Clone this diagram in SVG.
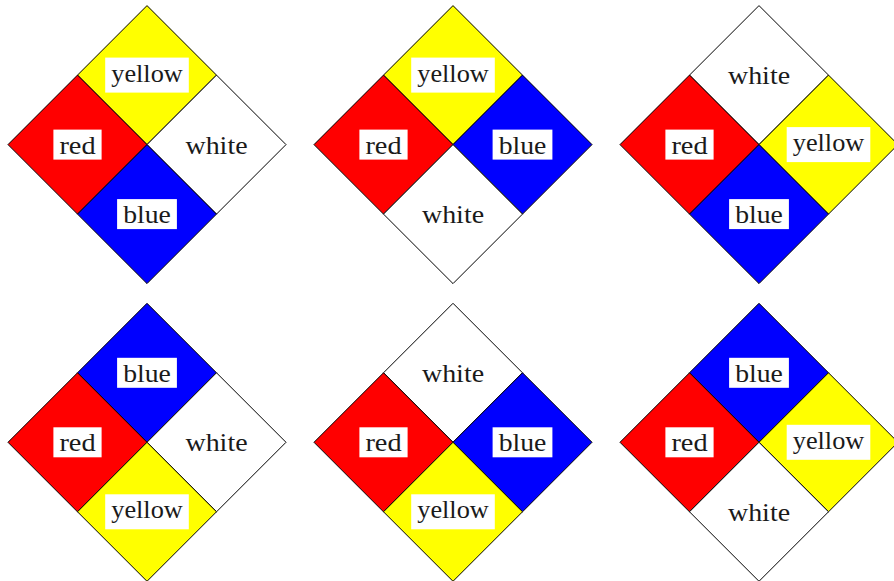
<svg xmlns="http://www.w3.org/2000/svg" xmlns:xlink="http://www.w3.org/1999/xlink" width="894" height="581" viewBox="0 0 894 581">
<style>
.d{stroke:#000;stroke-width:1;stroke-linejoin:miter}
.r{fill:#ff0000}.y{fill:#ffff00}.b{fill:#0000ff}.w{fill:#ffffff}
.bx{fill:#fff;stroke:none}
text{font-family:"Liberation Serif","Times New Roman",serif;font-size:26px;fill:#1a1a1a;text-anchor:middle}
</style>
<defs>
<path id="sd" d="M0,-69.5 L69.5,0 L0,69.5 L-69.5,0 Z"/>
<g id="lred"><rect class="bx" x="-24.1" y="-15" width="48.2" height="30"/><text y="9" textLength="36.2" lengthAdjust="spacingAndGlyphs">red</text></g>
<g id="lblue"><rect class="bx" x="-29.9" y="-15" width="59.8" height="30"/><text y="9" textLength="47.7" lengthAdjust="spacingAndGlyphs">blue</text></g>
<g id="lwhite"><rect class="bx" x="-37" y="-15" width="74" height="30"/><text y="9" textLength="62.1" lengthAdjust="spacingAndGlyphs">white</text></g>
<g id="lyellow"><rect class="bx" x="-41.8" y="-17.5" width="83.6" height="35"/><text y="6.5" textLength="71.5" lengthAdjust="spacingAndGlyphs">yellow</text></g>
</defs>
<g id="connectors"/>
<g id="diamond1" transform="translate(147,144.6)">
<use xlink:href="#sd" class="d y" transform="translate(0,-69.5)"/>
<use xlink:href="#sd" class="d r" transform="translate(-69.5,0)"/>
<use xlink:href="#sd" class="d w" transform="translate(69.5,0)"/>
<use xlink:href="#sd" class="d b" transform="translate(0,69.5)"/>
<use xlink:href="#lyellow" transform="translate(0,-69.5)"/>
<use xlink:href="#lred" transform="translate(-69.5,0)"/>
<use xlink:href="#lwhite" transform="translate(69.5,0)"/>
<use xlink:href="#lblue" transform="translate(0,69.5)"/>
</g>
<g id="diamond2" transform="translate(453,144.6)">
<use xlink:href="#sd" class="d y" transform="translate(0,-69.5)"/>
<use xlink:href="#sd" class="d r" transform="translate(-69.5,0)"/>
<use xlink:href="#sd" class="d b" transform="translate(69.5,0)"/>
<use xlink:href="#sd" class="d w" transform="translate(0,69.5)"/>
<use xlink:href="#lyellow" transform="translate(0,-69.5)"/>
<use xlink:href="#lred" transform="translate(-69.5,0)"/>
<use xlink:href="#lblue" transform="translate(69.5,0)"/>
<use xlink:href="#lwhite" transform="translate(0,69.5)"/>
</g>
<g id="diamond3" transform="translate(759,144.6)">
<use xlink:href="#sd" class="d w" transform="translate(0,-69.5)"/>
<use xlink:href="#sd" class="d r" transform="translate(-69.5,0)"/>
<use xlink:href="#sd" class="d y" transform="translate(69.5,0)"/>
<use xlink:href="#sd" class="d b" transform="translate(0,69.5)"/>
<use xlink:href="#lwhite" transform="translate(0,-69.5)"/>
<use xlink:href="#lred" transform="translate(-69.5,0)"/>
<use xlink:href="#lyellow" transform="translate(69.5,0)"/>
<use xlink:href="#lblue" transform="translate(0,69.5)"/>
</g>
<g id="diamond4" transform="translate(147,442.3)">
<use xlink:href="#sd" class="d b" transform="translate(0,-69.5)"/>
<use xlink:href="#sd" class="d r" transform="translate(-69.5,0)"/>
<use xlink:href="#sd" class="d w" transform="translate(69.5,0)"/>
<use xlink:href="#sd" class="d y" transform="translate(0,69.5)"/>
<use xlink:href="#lblue" transform="translate(0,-69.5)"/>
<use xlink:href="#lred" transform="translate(-69.5,0)"/>
<use xlink:href="#lwhite" transform="translate(69.5,0)"/>
<use xlink:href="#lyellow" transform="translate(0,69.5)"/>
</g>
<g id="diamond5" transform="translate(453,442.3)">
<use xlink:href="#sd" class="d w" transform="translate(0,-69.5)"/>
<use xlink:href="#sd" class="d r" transform="translate(-69.5,0)"/>
<use xlink:href="#sd" class="d b" transform="translate(69.5,0)"/>
<use xlink:href="#sd" class="d y" transform="translate(0,69.5)"/>
<use xlink:href="#lwhite" transform="translate(0,-69.5)"/>
<use xlink:href="#lred" transform="translate(-69.5,0)"/>
<use xlink:href="#lblue" transform="translate(69.5,0)"/>
<use xlink:href="#lyellow" transform="translate(0,69.5)"/>
</g>
<g id="diamond6" transform="translate(759,442.3)">
<use xlink:href="#sd" class="d b" transform="translate(0,-69.5)"/>
<use xlink:href="#sd" class="d r" transform="translate(-69.5,0)"/>
<use xlink:href="#sd" class="d y" transform="translate(69.5,0)"/>
<use xlink:href="#sd" class="d w" transform="translate(0,69.5)"/>
<use xlink:href="#lblue" transform="translate(0,-69.5)"/>
<use xlink:href="#lred" transform="translate(-69.5,0)"/>
<use xlink:href="#lyellow" transform="translate(69.5,0)"/>
<use xlink:href="#lwhite" transform="translate(0,69.5)"/>
</g>
</svg>
